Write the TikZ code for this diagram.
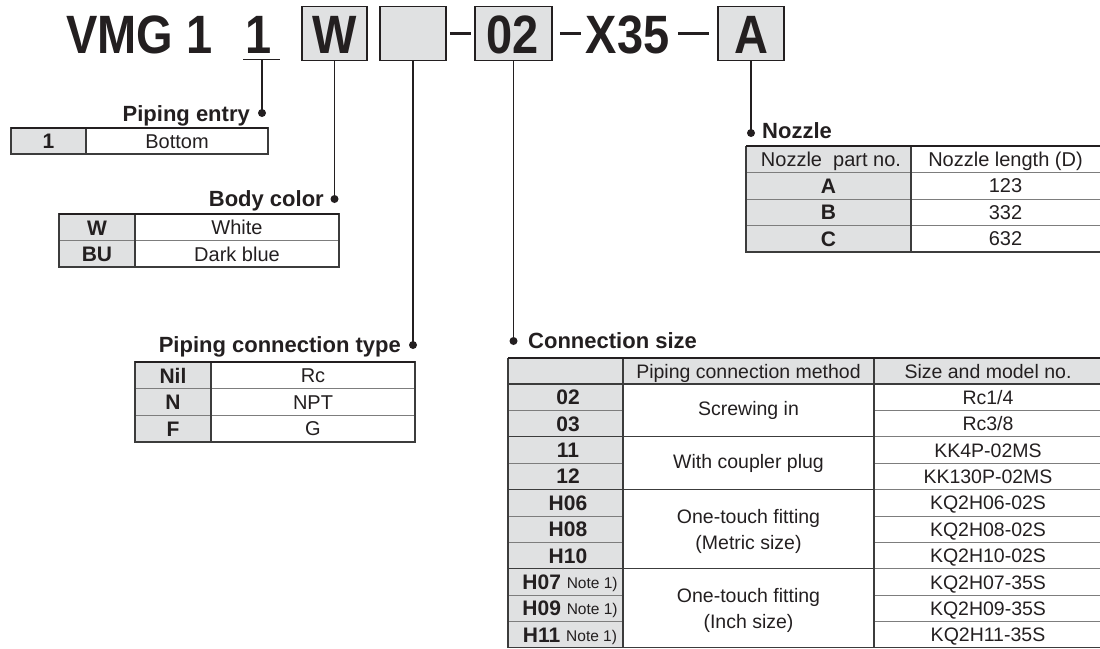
\documentclass[tikz,border=0pt]{standalone}
\usepackage{fontspec}
\setmainfont{Liberation Sans}
\newfontfamily\titlefont[FakeStretch=0.87]{Liberation Sans}
\usetikzlibrary{calc}
\definecolor{ink}{RGB}{35,31,32}
\definecolor{cellgrey}{RGB}{224,225,226}
\definecolor{rulec}{RGB}{60,60,60}
\definecolor{thinc}{RGB}{125,125,125}
\begin{document}
\begin{tikzpicture}[x=1pt,y=-1pt,
  box/.style={draw=ink, line width=1.6pt, fill=cellgrey, inner sep=0},
  big/.style={font=\titlefont\fontsize{54}{60}\selectfont\bfseries, text=ink, inner sep=0, anchor=base},
  lead/.style={draw=ink, line width=1.8pt},
  dashline/.style={draw=ink, line width=3pt},
  head/.style={font=\fontsize{22}{26}\selectfont\bfseries, text=ink, inner sep=0},
  cell/.style={font=\fontsize{20}{24}\selectfont, text=ink, inner sep=0, anchor=base},
  ccell/.style={font=\fontsize{19.5}{24}\selectfont, text=ink, inner sep=0, anchor=base},
  mcell/.style={font=\fontsize{19.5}{26}\selectfont, text=ink, inner sep=0, align=center},
  bcell/.style={font=\fontsize{21}{24}\selectfont\bfseries, text=ink, inner sep=0, anchor=base},
  outer/.style={draw=rulec, line width=1.2pt},
  innerl/.style={draw=thinc, line width=0.9pt},
  topr/.style={draw=ink, line width=2.4pt},
]
\useasboundingbox (0,0) rectangle (1100,648);

% ---------- title ----------
\node[box, minimum width=65pt, minimum height=54pt] (bW) at (334.5,33.5) {};
\node[box, minimum width=66pt, minimum height=54pt] (b1) at (413,33.5) {};
\node[box, minimum width=77pt, minimum height=54pt] (b02) at (513.5,33.5) {};
\node[box, minimum width=66pt, minimum height=54pt] (bA) at (751,33.5) {};

\node[big, anchor=base west] (tVMG) at (66,53) {VMG 1};
\node[big] (t1) at (259,53) {1};
\node[big] (tW) at (334.5,53) {W};
\node[big] (t02) at (513,53) {02};
\node[big] (tX) at (627.5,53) {X35};
\node[big] (tA) at (751,53) {A};

\draw[dashline] ([xshift=3pt]b1.east) -- ([xshift=-3pt]b02.west);
\draw[dashline] ([xshift=7pt]b02.east) -- ($(tX.west |- b02.east)+(-4.5,0)$);
\draw[dashline] ($(tX.east |- b02.east)+(8.5,0)$) -- ([xshift=-8pt]bA.west);

% ---------- leaders ----------
\coordinate (u1l) at (243,59.5);
\coordinate (u1r) at (280,59.5);
\coordinate (u1m) at (262,59.5);
\coordinate (dPE) at (262,113);
\coordinate (dBC) at (334.5,199);
\coordinate (dPC) at (413,345);
\coordinate (dCS) at (513.5,341);
\coordinate (dNZ) at (751,133);

\draw[lead] (u1l) -- (u1r);
\draw[lead] (u1m) -- (dPE);
\draw[lead] (bW.south) -- (dBC);
\draw[lead] (b1.south) -- (dPC);
\draw[lead] (b02.south) -- (dCS);
\draw[lead] (bA.south) -- (dNZ);
\foreach \d in {dPE,dBC,dPC,dCS,dNZ} \fill[ink] (\d) circle[radius=4pt];

\node[head, anchor=base east] (lPE) at (250,121) {Piping entry};
\node[head, anchor=base east] (lBC) at (324,206) {Body color};
\node[head, anchor=base east] (lPC) at (401,352) {Piping connection type};
\node[head, anchor=base west] (lNZ) at (762,138) {Nozzle};
\node[head, anchor=base west] (lCS) at (528,348) {Connection size};

% ---------- Piping entry table ----------
\fill[cellgrey] (11,128) rectangle (86,154);
\draw[outer] (11,128) rectangle (268,154);
\draw[outer] (86,128) -- (86,154);
\draw[topr] (11,128) -- (268,128);
\node[bcell] (pe1) at (48.5,148.5) {1};
\node[cell] (pe2) at (177,148) {Bottom};

% ---------- Body color table ----------
\fill[cellgrey] (59,214) rectangle (135,267);
\draw[innerl] (59,240.5) -- (339,240.5);
\draw[outer] (59,214) rectangle (339,267);
\draw[outer] (135,214) -- (135,267);
\draw[topr] (59,214) -- (339,214);
\node[bcell] (bc1) at (97,235) {W};
\node[cell] (bc2) at (237,234.5) {White};
\node[bcell] (bc3) at (97,261.5) {BU};
\node[cell] (bc4) at (237,261) {Dark blue};

% ---------- Piping connection type table ----------
\fill[cellgrey] (135,362) rectangle (211,442);
\draw[innerl] (135,388.7) -- (415,388.7);
\draw[innerl] (135,415.3) -- (415,415.3);
\draw[outer] (135,362) rectangle (415,442);
\draw[outer] (211,362) -- (211,442);
\draw[topr] (135,362) -- (415,362);
\node[bcell] (pc1) at (173,383) {Nil};
\node[cell] (pc2) at (313,382.5) {Rc};
\node[bcell] (pc3) at (173,409.7) {N};
\node[cell] (pc4) at (313,409.2) {NPT};
\node[bcell] (pc5) at (173,436.4) {F};
\node[cell] (pc6) at (313,435.9) {G};

% ---------- Nozzle table ----------
\fill[cellgrey] (746,146) rectangle (911,252);
\foreach \yy in {172.5,199,225.5} \draw[innerl] (746,\yy) -- (1101,\yy);
\draw[outer] (746,146) -- (746,252) -- (1101,252);
\draw[outer] (911,146) -- (911,252);
\draw[topr] (746,146) -- (1101,146);
\node[cell] (nz0) at (831,166.4) {Nozzle\ \ part no.};
\node[cell] (nz1) at (1005.5,166.4) {Nozzle length (D)};
\node[bcell] (nzA) at (828.5,193.3) {A};
\node[cell] (nz2) at (1005.5,192.9) {123};
\node[bcell] (nzB) at (828.5,219.8) {B};
\node[cell] (nz3) at (1005.5,219.4) {332};
\node[bcell] (nzC) at (828.5,246.3) {C};
\node[cell] (nz4) at (1005.5,245.9) {632};

% ---------- Connection size table ----------
\fill[cellgrey] (508,358) rectangle (1101,384);
\fill[cellgrey] (508,384) rectangle (623,648);
\foreach \i in {1,3,5,6,8,9} {
  \draw[innerl] (508,{384+26.4*\i}) -- (623,{384+26.4*\i});
}
\foreach \i in {1,...,9} {
  \draw[innerl] (874,{384+26.4*\i}) -- (1101,{384+26.4*\i});
}
\foreach \i in {2,4,7} {
  \draw[outer] (508,{384+26.4*\i}) -- (874,{384+26.4*\i});
}
\draw[outer] (508,384) -- (1101,384);
\draw[outer] (508,358) -- (508,647.5) -- (1101,647.5);
\draw[outer] (623,358) -- (623,648);
\draw[outer] (874,358) -- (874,648);
\draw[topr] (508,358) -- (1101,358);

\node[ccell] (ch1) at (748.5,378) {Piping connection method};
\node[ccell] (ch2) at (988,378) {Size and model no.};

\foreach \lab [count=\i from 0] in {02,03,11,12,H06,H08,H10} {
  \node[bcell] (cl\i) at (568,{384+26.4*\i+13.2+7.5}) {\lab};
}
\foreach \lab [count=\i from 7] in {H07,H09,H11} {
  \node[bcell] (cl\i) at (570,{384+26.4*\i+13.2+7.5}) {\lab\ \mdseries\fontsize{15.5}{18}\selectfont\raisebox{1pt}{Note 1)}};
}
\foreach \lab [count=\i from 0] in {Rc1/4,Rc3/8,KK4P-02MS,KK130P-02MS,KQ2H06-02S,KQ2H08-02S,KQ2H10-02S,KQ2H07-35S,KQ2H09-35S,KQ2H11-35S} {
  \node[ccell] (cr\i) at (988,{384+26.4*\i+13.2+7}) {\lab};
}
\node[mcell] (cm1) at (748.5,410.4) {Screwing in};
\node[mcell] (cm2) at (748.5,463.2) {With coupler plug};
\node[mcell] (cm3) at (748.5,531) {One-touch fitting\\(Metric size)};
\node[mcell] (cm4) at (748.5,610) {One-touch fitting\\(Inch size)};
\end{tikzpicture}
\end{document}
